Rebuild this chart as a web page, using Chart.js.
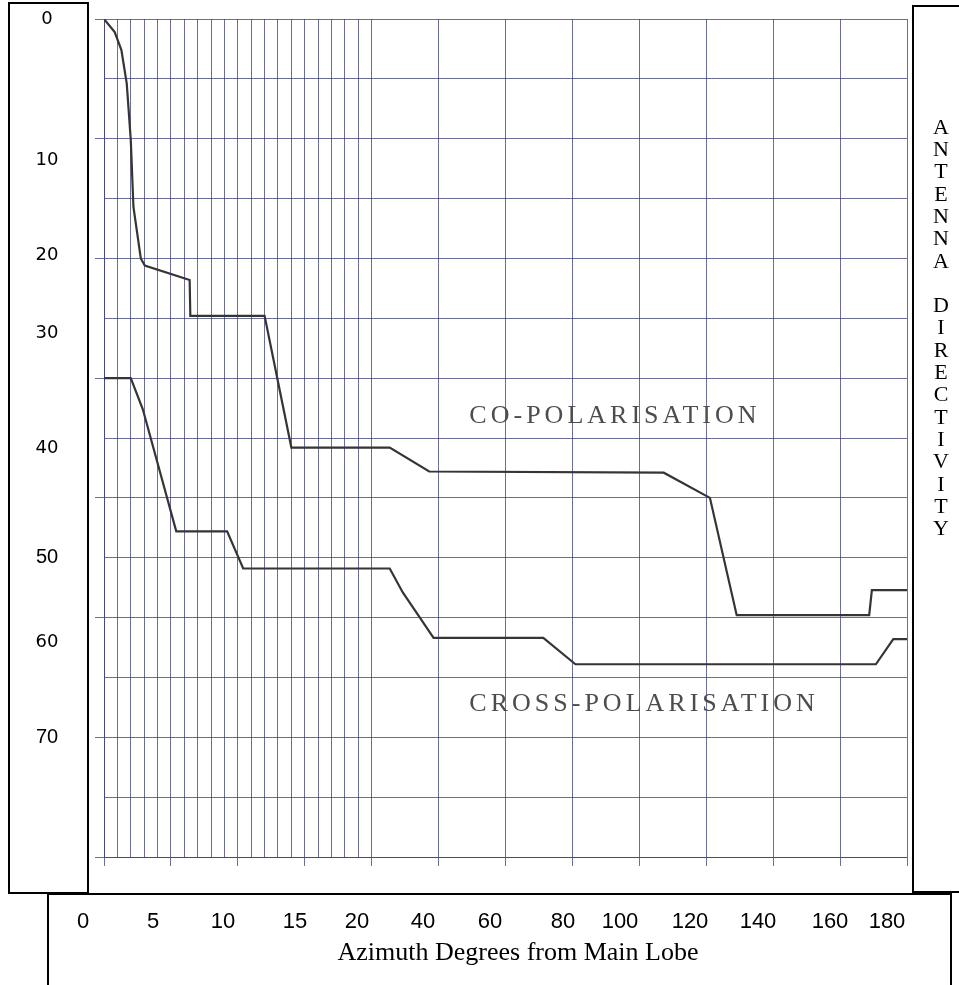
<!DOCTYPE html>
<html>
<head>
<meta charset="utf-8">
<title>Antenna Directivity</title>
<script src="https://cdn.jsdelivr.net/npm/chart.js@4/dist/chart.umd.min.js"></script>
<style>
  html, body { margin: 0; padding: 0; background: #fff; }
  canvas { display: block; }
</style>
</head>
<body>
<canvas id="patternChart" width="959" height="985"></canvas>
<script>
// azimuth (degrees from main lobe) and directivity (dB below peak)
const coPolDeg = [0, 0.8, 1.3, 1.7, 2.0, 2.2, 2.75, 3.05, 6.4, 6.45, 12.0, 14.0, 25.4, 37.2, 107.3, 121.1, 129.1, 168.7, 169.5, 180];
const coPolDb = [0, 1.1, 2.6, 5.4, 10.1, 15.7, 20.0, 20.6, 21.8, 24.8, 24.8, 35.8, 35.8, 37.8, 37.9, 40.0, 49.8, 49.8, 47.7, 47.7];

const crossPolDeg = [0, 2.0, 2.9, 5.4, 9.2, 10.4, 25.4, 29.3, 38.5, 71.3, 80.9, 170.7, 175.9, 180];
const crossPolDb = [30, 30, 32.6, 42.8, 42.8, 45.9, 45.9, 47.9, 51.7, 51.7, 53.9, 53.9, 51.8, 51.8];

// graph paper: 1 degree lines up to 20, then 20 degree lines
const azimuthGrid = [0, 1, 2, 3, 4, 5, 6, 7, 8, 9, 10, 11, 12, 13, 14, 15, 16, 17, 18, 19, 20,
  40, 60, 80, 100, 120, 140, 160, 180];

const azimuthLabels = ["0", "5", "10", "15", "20", "40", "60", "80", "100", "120", "140", "160", "180"];
const dbLabels = ["0", "10", "20", "30", "40", "50", "60", "70"];
const sideTitle = "ANTENNA DIRECTIVITY";
const bottomTitle = "Azimuth Degrees from Main Lobe";

// where the hand-made label boxes put their text (px)
const azimuthLabelX = [83, 153, 223, 295, 357, 423, 490, 563, 620, 690, 758, 830, 887];
const dbLabelY = [19, 160, 255, 333, 448, 557, 642, 737];

const FINE_END = 20;
const COARSE_RATIO = 4;

function toPaper(deg) {
  return deg <= FINE_END ? deg : FINE_END + (deg - FINE_END) / COARSE_RATIO;
}
function fromPaper(u) {
  return u <= FINE_END ? u : FINE_END + (u - FINE_END) * COARSE_RATIO;
}

// linear scale that is stretched 4x below 20 degrees
class AzimuthScale extends Chart.LinearScale {
  static id = "azimuth";
  static defaults = Chart.LinearScale.defaults;

  getPixelForValue(value) {
    const a = toPaper(this.min);
    const b = toPaper(this.max);
    return this.getPixelForDecimal((toPaper(value) - a) / (b - a));
  }

  getValueForPixel(pixel) {
    const a = toPaper(this.min);
    const b = toPaper(this.max);
    return fromPaper(a + this.getDecimalForPixel(pixel) * (b - a));
  }
}
Chart.register(AzimuthScale);

const gridColor = "rgba(58, 62, 118, 0.75)";

const boxes = {
  id: "boxes",
  beforeDraw(chart) {
    const c = chart.ctx;
    c.save();
    c.fillStyle = "#fff";
    c.fillRect(0, 0, chart.width, chart.height);
    c.restore();
  },
  afterDatasetsDraw(chart) {
    const c = chart.ctx;
    const x = chart.scales.x;
    const y = chart.scales.y;
    c.save();
    c.fillStyle = "#4d4d4d";
    c.font = "26px 'Liberation Serif', 'Times New Roman', serif";
    c.letterSpacing = "4px";
    c.textAlign = "left";
    c.textBaseline = "middle";
    c.fillText("CO-POLARISATION", x.getPixelForValue(49.2), y.getPixelForValue(33.2));
    c.fillText("CROSS-POLARISATION", x.getPixelForValue(49.2), y.getPixelForValue(57.2));
    c.restore();
  },
  afterDraw(chart) {
    const c = chart.ctx;
    c.save();
    c.strokeStyle = "#000";
    c.lineWidth = 2;

    // left box with the dB labels
    c.fillStyle = "#fff";
    c.fillRect(9, 3, 79, 890);
    c.strokeRect(9, 3, 79, 890);
    c.fillStyle = "#000";
    c.textAlign = "center";
    c.textBaseline = "middle";
    dbLabels.forEach((t, i) => {
      c.font = (t === "50" || t === "70")
        ? "20px 'Liberation Sans', Arial, sans-serif"
        : "18px 'DejaVu Sans', sans-serif";
      c.fillText(t, 47, dbLabelY[i]);
    });

    // right box with the stacked axis title
    c.fillStyle = "#fff";
    c.fillRect(913, 6, 60, 886);
    c.strokeRect(913, 6, 60, 886);
    c.fillStyle = "#000";
    c.font = "22px 'Liberation Serif', 'Times New Roman', serif";
    sideTitle.split("").forEach((ch, i) => {
      if (ch !== " ") c.fillText(ch, 941, 128 + i * 22.3);
    });

    // bottom box with the azimuth labels
    c.fillStyle = "#fff";
    c.fillRect(48, 894, 903, 100);
    c.strokeRect(48, 894, 903, 100);
    c.fillStyle = "#000";
    c.font = "22px 'Liberation Sans', Arial, sans-serif";
    azimuthLabels.forEach((t, i) => c.fillText(t, azimuthLabelX[i], 922));
    c.font = "26px 'Liberation Serif', 'Times New Roman', serif";
    c.fillText(bottomTitle, 518, 953);
    c.restore();
  }
};

new Chart(document.getElementById("patternChart"), {
  type: "line",
  data: {
    datasets: [
      {
        label: "CO-POLARISATION",
        data: coPolDeg.map((d, i) => ({ x: d, y: coPolDb[i] })),
        borderColor: "#353535",
        borderWidth: 2.2,
        pointRadius: 0,
        tension: 0,
      },
      {
        label: "CROSS-POLARISATION",
        data: crossPolDeg.map((d, i) => ({ x: d, y: crossPolDb[i] })),
        borderColor: "#353535",
        borderWidth: 2.2,
        pointRadius: 0,
        tension: 0,
      },
    ],
  },
  options: {
    responsive: false,
    animation: false,
    devicePixelRatio: 1,
    layout: {
      padding: { left: 95, top: 19, right: 52, bottom: 119 },
    },
    scales: {
      x: {
        type: "azimuth",
        min: 0,
        max: 180,
        afterBuildTicks: (axis) => {
          axis.ticks = azimuthGrid.map((v) => ({ value: v }));
        },
        ticks: { display: false },
        grid: {
          color: gridColor,
          lineWidth: 1,
          tickLength: 9,
          tickColor: (ctx) => (ctx.tick && ctx.tick.value % 5 === 0 ? gridColor : "rgba(0,0,0,0)"),
        },
        border: { color: gridColor },
      },
      y: {
        type: "linear",
        reverse: true,
        min: 0,
        max: 70,
        ticks: { display: false, stepSize: 5 },
        grid: {
          color: gridColor,
          lineWidth: 1,
          tickLength: 9,
          tickColor: (ctx) => (ctx.tick && ctx.tick.value % 10 === 0 ? gridColor : "rgba(0,0,0,0)"),
        },
        border: { color: gridColor },
      },
    },
    plugins: {
      legend: { display: false },
      tooltip: { enabled: false },
    },
  },
  plugins: [boxes],
});
</script>
</body>
</html>
